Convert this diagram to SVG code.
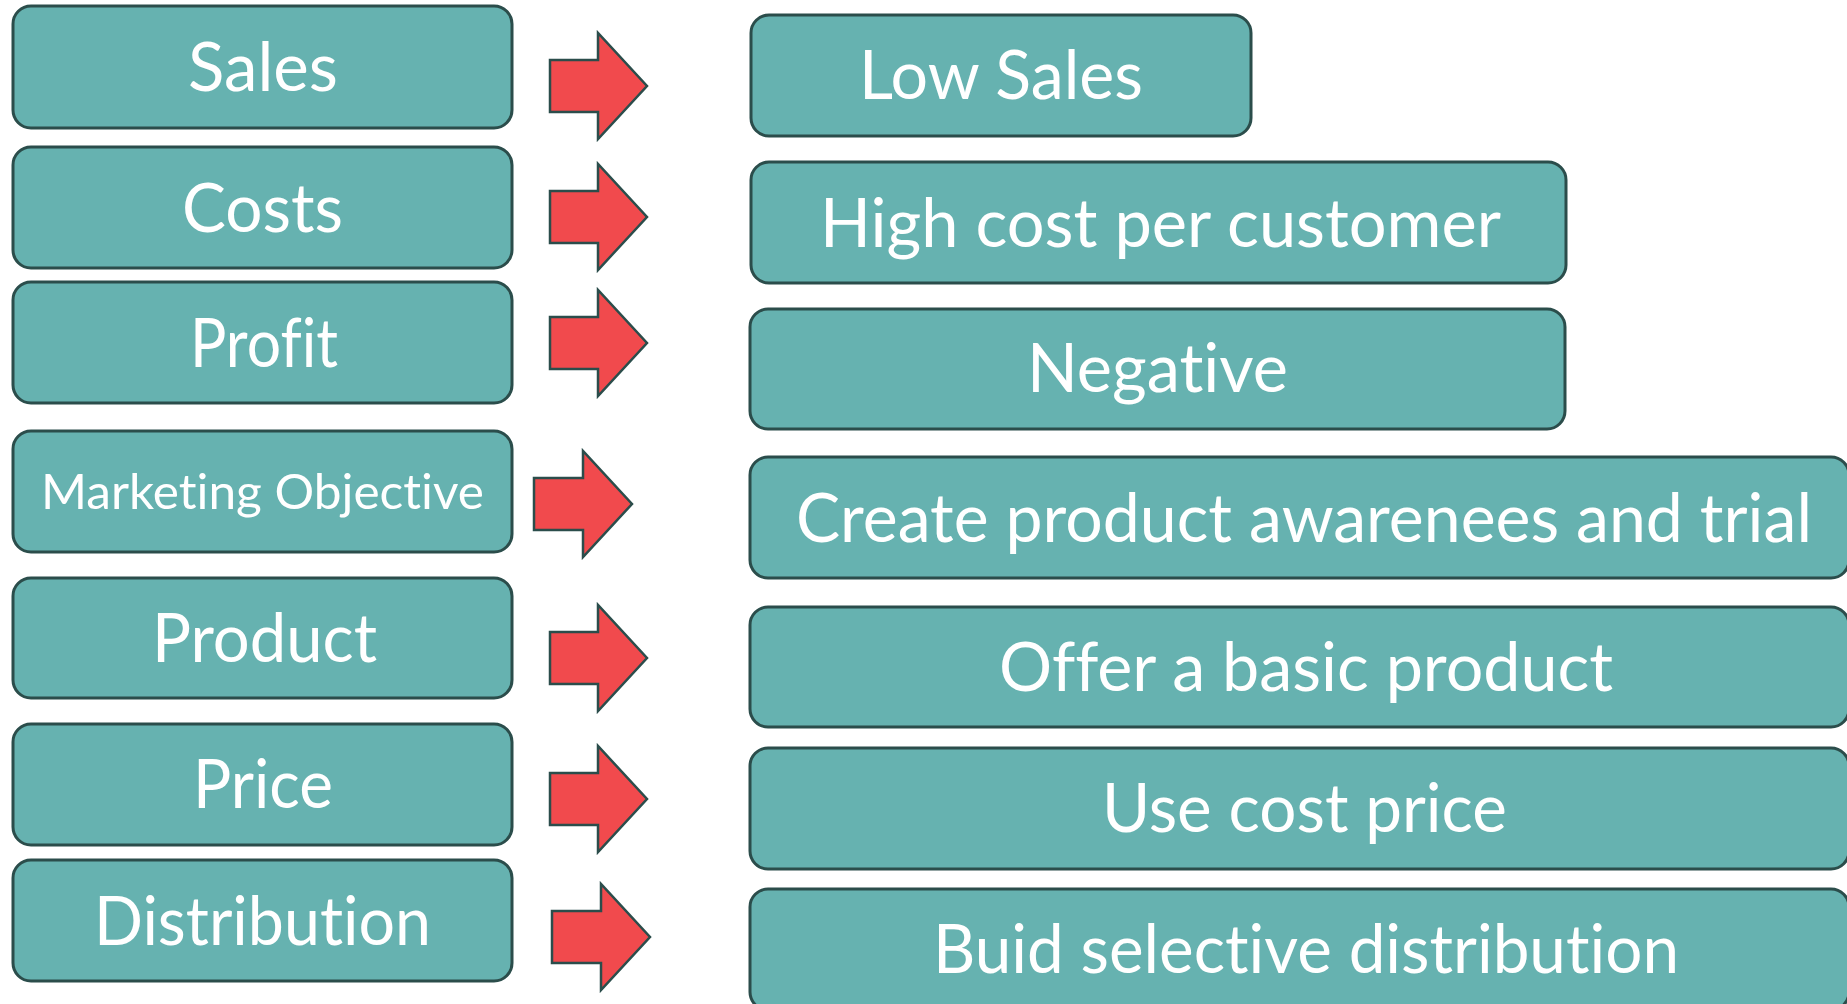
<svg xmlns="http://www.w3.org/2000/svg" width="1847" height="1004" viewBox="0 0 1847 1004">
<style>
.box{fill:#66b2b0;stroke:#2b4d4b;stroke-width:3}
.arr{fill:#f14a4d;stroke:#2b4d4b;stroke-width:2.5;stroke-linejoin:miter}
.t{fill:#ffffff;font-family:Lato,"Noto Sans","Liberation Sans",sans-serif;font-size:68px;font-variant-ligatures:none;font-feature-settings:"liga" 0,"clig" 0,"dlig" 0}
.s{font-size:49px}
</style>
<rect width="1847" height="1004" fill="#ffffff"/>
<g id="connectors">
<polygon class="arr" points="550,60 598,60 598,33 647,86 598,139 598,112 550,112"/>
<polygon class="arr" points="550,191 598,191 598,164 647,217 598,270 598,243 550,243"/>
<polygon class="arr" points="550,317 598,317 598,290 647,343 598,396 598,369 550,369"/>
<polygon class="arr" points="534,478 583,478 583,451 632,504 583,557 583,530 534,530"/>
<polygon class="arr" points="550,632 598,632 598,605 647,658 598,711 598,684 550,684"/>
<polygon class="arr" points="550,773 598,773 598,746 647,799 598,852 598,825 550,825"/>
<polygon class="arr" points="552,911 601,911 601,884 650,937 601,990 601,963 552,963"/>
</g>
<g id="sales"><rect class="box" x="13" y="6" width="499" height="122" rx="18"/><text class="t" x="188" y="91" textLength="150" lengthAdjust="spacingAndGlyphs">Sales</text></g>
<g id="costs"><rect class="box" x="13" y="147" width="499" height="121" rx="18"/><text class="t" x="182" y="232" textLength="161" lengthAdjust="spacingAndGlyphs">Costs</text></g>
<g id="profit"><rect class="box" x="13" y="282" width="499" height="121" rx="18"/><text class="t" x="190" y="367" textLength="148" lengthAdjust="spacingAndGlyphs">Profit</text></g>
<g id="marketing-objective"><rect class="box" x="13" y="431" width="499" height="121" rx="18"/><text class="t s" x="41" y="509" textLength="443" lengthAdjust="spacingAndGlyphs">Marketing Objective</text></g>
<g id="product"><rect class="box" x="13" y="578" width="499" height="120" rx="18"/><text class="t" x="152" y="662" textLength="225" lengthAdjust="spacingAndGlyphs">Product</text></g>
<g id="price"><rect class="box" x="13" y="724" width="499" height="121" rx="18"/><text class="t" x="193" y="808" textLength="140" lengthAdjust="spacingAndGlyphs">Price</text></g>
<g id="distribution"><rect class="box" x="13" y="860" width="499" height="121" rx="18"/><text class="t" x="94" y="945" textLength="337" lengthAdjust="spacingAndGlyphs">Distribution</text></g>
<g id="low-sales"><rect class="box" x="751" y="15" width="500" height="121" rx="18"/><text class="t" x="859" y="99" textLength="284" lengthAdjust="spacingAndGlyphs">Low Sales</text></g>
<g id="high-cost"><rect class="box" x="751" y="162" width="815" height="121" rx="18"/><text class="t" x="820" y="247" textLength="681" lengthAdjust="spacingAndGlyphs">High cost per customer</text></g>
<g id="negative"><rect class="box" x="750" y="309" width="815" height="120" rx="18"/><text class="t" x="1027" y="392" textLength="261" lengthAdjust="spacingAndGlyphs">Negative</text></g>
<g id="create-awareness"><rect class="box" x="750" y="457" width="1099" height="121" rx="18"/><text class="t" x="796" y="542" textLength="1016" lengthAdjust="spacingAndGlyphs">Create product awarenees and trial</text></g>
<g id="basic-product"><rect class="box" x="750" y="607" width="1099" height="120" rx="18"/><text class="t" x="999" y="691" textLength="614" lengthAdjust="spacingAndGlyphs">Offer a basic product</text></g>
<g id="cost-price"><rect class="box" x="750" y="748" width="1099" height="121" rx="18"/><text class="t" x="1102" y="832" textLength="405" lengthAdjust="spacingAndGlyphs">Use cost price</text></g>
<g id="selective-distribution"><rect class="box" x="750" y="889" width="1099" height="121" rx="18"/><text class="t" x="933" y="973" textLength="746" lengthAdjust="spacingAndGlyphs">Buid selective distribution</text></g>
</svg>
